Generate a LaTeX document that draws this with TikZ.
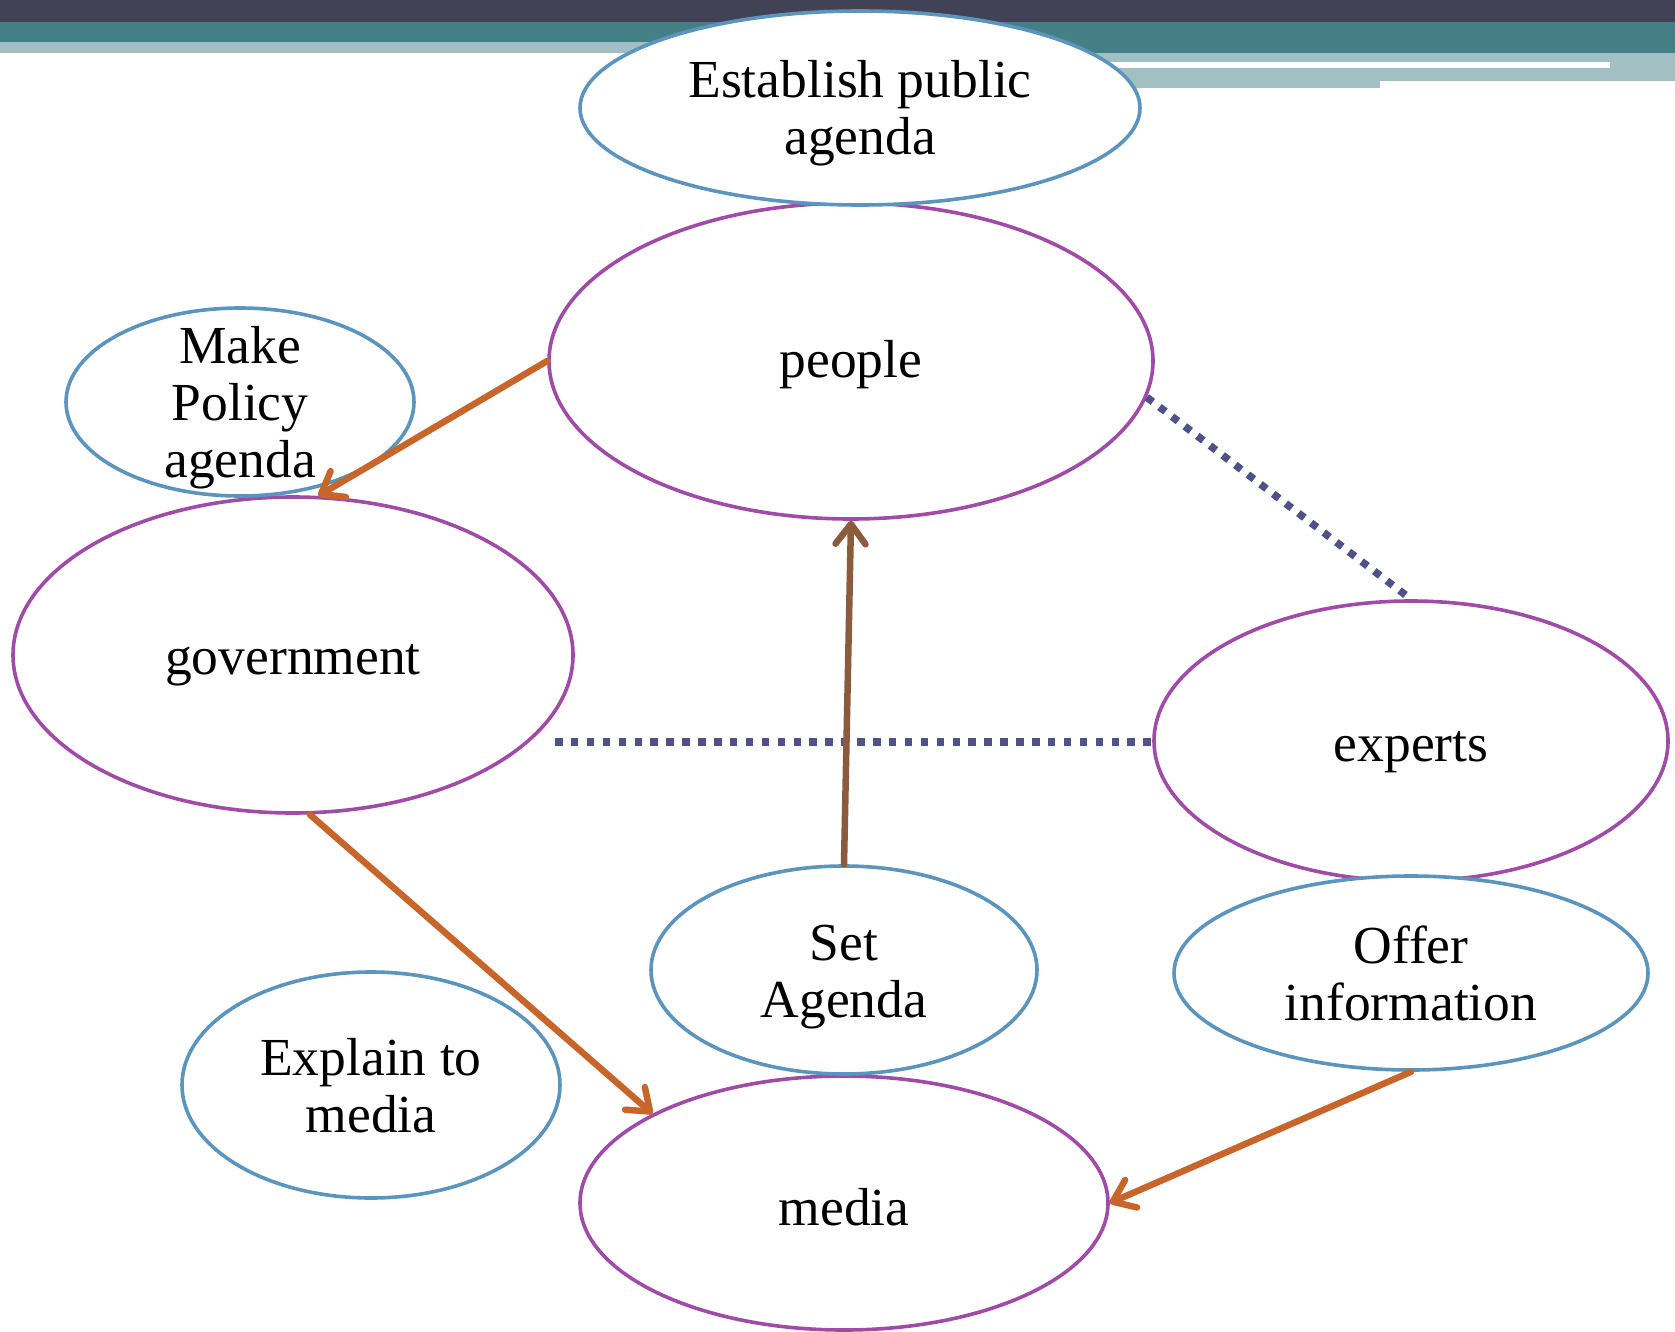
\documentclass[tikz,border=0pt]{standalone}
\usepackage{fontspec}
\setmainfont{Liberation Serif}
\usetikzlibrary{shapes.geometric,arrows.meta}
\definecolor{bardark}{RGB}{66,66,87}
\definecolor{barteal}{RGB}{68,127,133}
\definecolor{barlight}{RGB}{162,191,195}
\definecolor{eblue}{RGB}{91,148,188}
\definecolor{epurple}{RGB}{160,75,168}
\definecolor{aorange}{RGB}{200,101,43}
\definecolor{abrown}{RGB}{138,91,61}
\definecolor{adot}{RGB}{79,82,137}
\tikzset{
  ell/.style 2 args={ellipse, fill=white, line width=3.6pt, inner sep=0pt,
    label={[font=\fontsize{53.5}{57}\selectfont, align=center, yshift=#2]center:#1}},
  bell/.style 2 args={ell={#1}{#2}, draw=eblue},
  pell/.style 2 args={ell={#1}{#2}, draw=epurple},
  oarrow/.style={draw=aorange, line width=6.5pt, line cap=round,
    -{Straight Barb[length=20pt,width=30pt,round]}},
  barrow/.style={draw=abrown, line width=6.5pt, line cap=round,
    -{Straight Barb[length=20pt,width=30pt,round]}},
  dotline/.style={draw=adot, line width=7.5pt, dash pattern=on 7.5pt off 8.4pt}
}
\begin{document}
\begin{tikzpicture}[x=1pt,y=-1pt]
\useasboundingbox (0,0) rectangle (1675,1332);
% top bars
\fill[bardark] (0,0) rectangle (1675,21.7);
\fill[barteal] (0,21.7) rectangle (1675,53);
\fill[barlight] (0,41.7) rectangle (860,53);
\fill[barlight] (1000,53) rectangle (1675,81);
\fill[barlight] (1000,80) rectangle (1380,88);
\fill[white] (1000,62.3) rectangle (1610,68);
% ellipses
\node[pell={people}{-4pt}, minimum width=604pt, minimum height=316pt] (people) at (851,361) {};
\node[bell={Establish public\\agenda}{-5pt}, minimum width=560pt, minimum height=194pt] (establish) at (860,108) {};
\node[pell={government}{-10pt}, minimum width=560pt, minimum height=316pt] (government) at (293,655) {};
\node[bell={Make\\Policy\\agenda}{-6pt}, minimum width=348pt, minimum height=188pt] (policy) at (240,402) {};
\node[pell={experts}{-11pt}, minimum width=514pt, minimum height=280pt] (experts) at (1411,741) {};
\node[bell={Offer\\information}{0pt}, minimum width=474pt, minimum height=194pt] (offer) at (1411,973) {};
\node[pell={media}{-4pt}, minimum width=528pt, minimum height=254pt] (media) at (844,1203) {};
\node[bell={Set\\Agenda}{-7pt}, minimum width=386pt, minimum height=208pt] (setagenda) at (844,970) {};
\node[bell={Explain to\\media}{-1pt}, minimum width=378pt, minimum height=226pt] (explain) at (371,1085) {};
% connectors
\coordinate (gdot) at (555,742);
\draw[dotline] (gdot) -- (gdot -| experts.west);
\draw[dotline] (people.-7.7) -- (experts.north);
\draw[barrow] (setagenda.north) -- (people.south);
\draw[oarrow] (people.180) -- (government.81.5);
\draw[oarrow] (government.-84) -- (media.155.5);
\draw[oarrow] (offer.south) -- (media.east);
\end{tikzpicture}
\end{document}
